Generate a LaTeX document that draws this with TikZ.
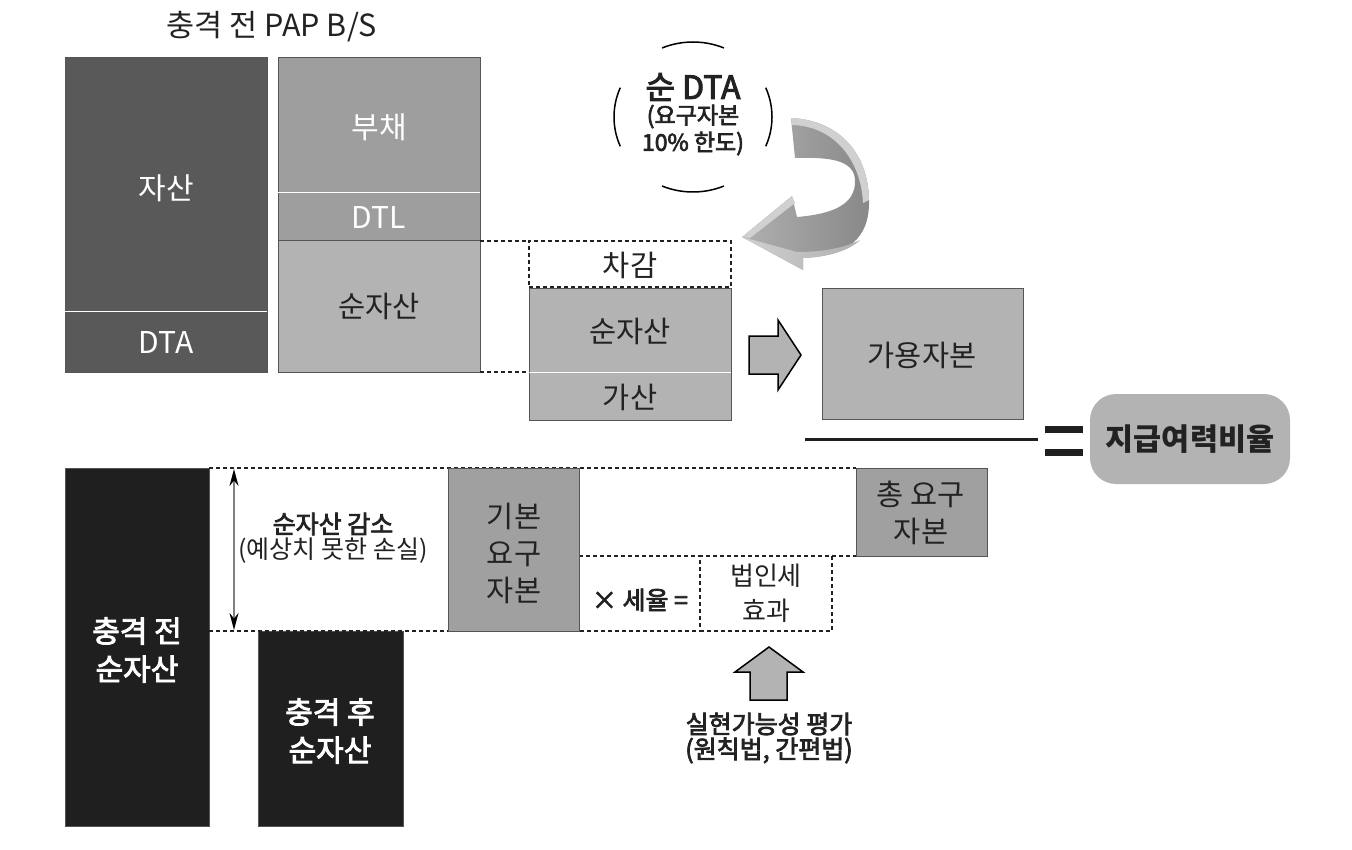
\documentclass[tikz,border=0pt]{standalone}
\usepackage{fontspec}
\setmainfont{Noto Sans CJK KR}
\newfontfamily\medfont{Noto Sans CJK KR}[FakeBold=3]
\usetikzlibrary{arrows.meta,calc}
\definecolor{cdark}{HTML}{595959}
\definecolor{cmid}{HTML}{9E9E9E}
\definecolor{clight}{HTML}{B3B3B3}
\definecolor{cgrey}{HTML}{A0A0A0}
\definecolor{cblk}{HTML}{1F1F1F}
\definecolor{ctxt}{HTML}{222222}
\definecolor{cedge}{HTML}{555555}
\definecolor{rlight}{HTML}{D0D0D0}
\definecolor{rmid}{HTML}{B0B0B0}
\definecolor{rdark}{HTML}{888888}
\begin{document}
\begin{tikzpicture}[x=1pt,y=-1pt,
  rectbox/.style={draw=cedge, line width=1pt, inner sep=0pt, outer sep=0pt, anchor=north west},
  dbox/.style={draw=ctxt, line width=1.2pt, dash pattern=on 4pt off 3pt, inner sep=0pt, outer sep=0pt, anchor=north west},
  dline/.style={draw=ctxt, line width=1.2pt, dash pattern=on 4pt off 3pt},
  wtxt/.style={text=white, font=\fontsize{30}{38}\selectfont, align=center, inner sep=0pt},
  btxt/.style={text=ctxt, font=\fontsize{29.5}{37}\selectfont, align=center, inner sep=0pt},
  wbold/.style={text=white, font=\medfont\fontsize{30}{38}\selectfont, align=center, inner sep=0pt},
  blockarrow/.style={draw=black, line width=1.5pt, fill=clight, line join=miter},
  sep/.style={draw=white, line width=1pt}
]
\useasboundingbox (0,0) rectangle (1352,850);

% ---------- title ----------
\node[btxt, font=\fontsize{30.5}{37}\selectfont] (title) at (272,27) {충격 전 PAP B/S};

% ---------- balance sheet ----------
\node[rectbox, fill=cdark, minimum width=202pt, minimum height=314pt] (assets) at (65,58) {};
\draw[sep] (65,312) -- (267,312);
\node[wtxt] (tassets) at (166,188) {자산};
\node[wtxt] (tdta) at (166,343) {DTA};

\node[rectbox, fill=cmid, minimum width=202pt, minimum height=183pt] (liab) at (278,58) {};
\draw[sep] (278,193) -- (480,193);
\node[wtxt] (tliab) at (379,127) {부채};
\node[wtxt] (tdtl) at (379,218) {DTL};
\node[rectbox, fill=clight, minimum width=202pt, minimum height=131pt] (na1) at (278,241) {};
\node[btxt] (tna1) at (379,306) {순자산};

% ---------- adjusted net assets ----------
\node[dbox, fill=white, minimum width=202pt, minimum height=46pt] (deduct) at (529,241) {};
\node[btxt] (tdeduct) at (630,265) {차감};
\node[rectbox, fill=clight, minimum width=202pt, minimum height=131pt] (na2) at (529,289) {};
\draw[sep] (529,372) -- (731,372);
\node[btxt] (tna2) at (630,331) {순자산};
\node[btxt] (tadd) at (630,397) {가산};

\draw[dline] (na1.north east) -- (deduct.north west);
\draw[dline] (na1.south east) -- (na1.south east -| na2.west);

% right block arrow
\draw[blockarrow] (749,336) -- (778,336) -- (778,320) -- (801,355) -- (778,390) -- (778,374) -- (749,374) -- cycle;

\node[rectbox, fill=clight, minimum width=201pt, minimum height=130pt] (avail) at (822,289) {};
\node[btxt] (tavail) at (922,355) {가용자본};

% fraction line and equals
\coordinate (fl1) at (805,439);
\coordinate (fl2) at (1038,439);
\draw[cblk, line width=3pt] (fl1) -- (fl2);
\fill[cblk] (1045,426) rectangle (1083,433);
\fill[cblk] (1045,449) rectangle (1083,456);
\node[fill=clight, rounded corners=26pt, minimum width=200pt, minimum height=90pt, inner sep=0pt,
      text=ctxt, font=\bfseries\fontsize{30.5}{34}\selectfont] (ratio) at (1190,439) {지급여력비율};

% ---------- net DTA circle ----------
\node[text=ctxt, font=\medfont\fontsize{32}{34}\selectfont, inner sep=0pt] (ndta) at (693,87) {순 DTA};
\node[text=ctxt, font=\medfont\fontsize{23}{27}\selectfont, align=center, inner sep=0pt] (ndta2) at (693,130) {(요구자본\\10\% 한도)};
\coordinate (cc) at (693,117);
\foreach \a in {67,157,247,337}{
  \draw[black, line width=1.5pt] ($(cc)+({79*cos(\a)},{75*sin(\a)})$)
     arc[start angle=\a, end angle=\a+46, x radius=79, y radius=75];
}

% curved 3D arrow
\shade[left color=rmid, right color=rdark]
  (791,118) .. controls (836,120) and (868,150) .. (869,200)
  .. controls (870,240) and (846,256) .. (803,258)
  -- (803,270) -- (742,237) -- (792,196) -- (797,217)
  .. controls (832,214) and (856,205) .. (855,180)
  .. controls (854,160) and (830,157) .. (795,158) -- cycle;
\shade[left color=rlight, right color=rmid]
  (742,237) -- (803,270) -- (803,258) .. controls (830,257) and (850,250) .. (860,240)
  .. controls (840,250) and (815,252) .. (797,252) -- cycle;
\fill[rlight]
  (791,118) .. controls (836,120) and (868,150) .. (869,200)
  -- (863,203) .. controls (861,160) and (834,126) .. (792,125) -- cycle;
\fill[rlight] (742,237) -- (792,196) -- (795,203) -- (750,238) -- cycle;

% ---------- bottom part ----------
\node[rectbox, fill=cblk, minimum width=144pt, minimum height=358pt] (pre) at (65,468) {};
\node[wbold] (tpre) at (137,650) {충격 전\\순자산};
\node[rectbox, fill=cblk, minimum width=145pt, minimum height=195pt] (post) at (258,631) {};
\node[wbold] (tpost) at (330,731) {충격 후\\순자산};

\node[rectbox, fill=cgrey, minimum width=131pt, minimum height=88pt] (tot) at (856,468) {};
\node[btxt] (ttot) at (921,513) {총 요구\\자본};
\node[dbox, minimum width=132pt, minimum height=75pt] (tax) at (700,556) {};
\node[text=ctxt, font=\fontsize{26}{35}\selectfont, align=center, inner sep=0pt] (ttax) at (766,593) {법인세\\효과};

\draw[dline] (pre.north east) -- (tot.north west);
\draw[dline] (pre.east |- post.north) -- (tax.south west);
\draw[dline] (579,556) -- (tax.north west);
\draw[dline] (tax.north east) -- (tot.south west);

\node[rectbox, fill=cgrey, minimum width=131pt, minimum height=163pt] (basic) at (448,468) {};
\node[btxt] (tbasic) at (514,553) {기본\\요구\\자본};

\coordinate (ar1) at (234,469);
\coordinate (ar2) at (234,630);
\draw[gray, line width=1.5pt, {Stealth[black,length=17pt,width=9pt]}-{Stealth[black,length=17pt,width=9pt]}] (ar1) -- (ar2);
\node[text=ctxt, font=\medfont\fontsize{25}{27}\selectfont, inner sep=0pt] (tloss1) at (333,524) {순자산 감소};
\node[text=ctxt, font=\fontsize{25}{27}\selectfont, inner sep=0pt] (tloss2) at (333,551) {(예상치 못한 손실)};

\node[text=ctxt, font=\medfont\fontsize{25}{27}\selectfont, inner sep=0pt] (trate) at (640,600) {× 세율 =};

% up block arrow
\draw[blockarrow] (750,700) -- (750,672) -- (735,672) -- (769,647) -- (803,672) -- (787,672) -- (787,700) -- cycle;
\node[text=ctxt, font=\medfont\fontsize{25}{25}\selectfont, align=center, inner sep=0pt] (tfeas) at (769,738) {실현가능성 평가\\(원칙법, 간편법)};

\end{tikzpicture}
\end{document}
